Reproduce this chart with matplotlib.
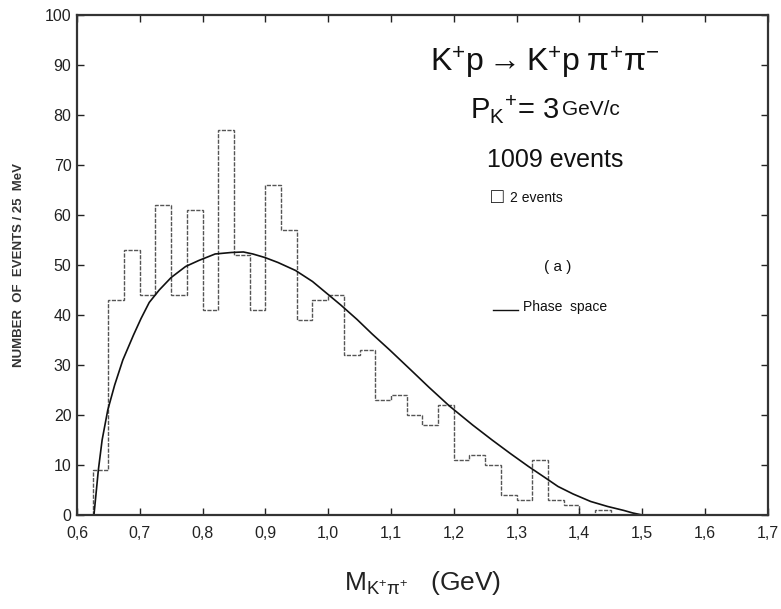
import numpy as np
import matplotlib
matplotlib.use("Agg")
import matplotlib.pyplot as plt

plt.rcParams['font.family'] = ['Liberation Sans', 'DejaVu Sans']
plt.rcParams['mathtext.fontset'] = 'custom'
plt.rcParams['mathtext.rm'] = 'Liberation Sans'
plt.rcParams['mathtext.it'] = 'Liberation Sans'

# K+ pi+ mass histogram, 25 MeV bins starting at 0.625 GeV
bin_start = 0.625
bin_width = 0.025
counts = [9, 43, 53, 44, 62, 44, 61, 41, 77, 52, 41, 66, 57, 39, 43, 44,
          32, 33, 23, 24, 20, 18, 22, 11, 12, 10, 4, 3, 11, 3, 2, 0, 1]

# phase space curve, read point by point
ps_mass = [0.627, 0.634, 0.64, 0.649, 0.66, 0.673, 0.69, 0.702, 0.715,
           0.731, 0.75, 0.773, 0.794, 0.82, 0.846, 0.865, 0.88, 0.899,
           0.92, 0.948, 0.975, 0.998, 1.02, 1.046, 1.07, 1.098, 1.135,
           1.16, 1.193, 1.23, 1.261, 1.29, 1.319, 1.345, 1.366, 1.39,
           1.418, 1.445, 1.471, 1.485, 1.5]
ps_events = [0, 9, 15, 21, 26, 31, 36, 39.3, 42.5, 45, 47.5, 49.7, 50.9,
             52.2, 52.5, 52.6, 52.2, 51.5, 50.5, 48.9, 46.7, 44.3, 42,
             39.1, 36.2, 33, 28.6, 25.6, 21.8, 18.0, 15, 12.3, 9.7, 7.5,
             5.7, 4.2, 2.7, 1.7, 0.9, 0.4, 0]

x_ticks = [0.6, 0.7, 0.8, 0.9, 1.0, 1.1, 1.2, 1.3, 1.4, 1.5, 1.6, 1.7]
y_ticks = [0, 10, 20, 30, 40, 50, 60, 70, 80, 90, 100]

edges = bin_start + bin_width * np.arange(len(counts) + 1)

fig = plt.figure(figsize=(7.81, 6.09), dpi=100)
ax = fig.add_axes([0.0986, 0.1544, 0.8844, 0.821])

ax.stairs(counts, edges, baseline=0, color='#555555', lw=1.0,
          linestyle=(0, (3, 1)))
ax.plot(ps_mass, ps_events, color='#111111', lw=1.2)

ax.set_xlim(0.6, 1.7)
ax.set_ylim(0, 100)
ax.set_xticks(x_ticks)
ax.set_xticklabels([('%.1f' % t).replace('.', ',') for t in x_ticks])
ax.set_yticks(y_ticks)
ax.tick_params(direction='in', top=True, right=True, length=5, width=1,
               labelsize=11.5, colors='#222222')
ax.tick_params(axis='x', pad=8)
ax.tick_params(axis='y', pad=4)
for s in ax.spines.values():
    s.set_linewidth(1.6)
    s.set_color('#333333')

ax.set_ylabel('NUMBER  OF  EVENTS / 25  MeV', fontsize=9.5, fontweight='bold',
              color='#333333', labelpad=14)
ax.set_xlabel(r'$\mathrm{M}_{\mathrm{K^{+}π^{+}}}$   (GeV)', fontsize=19,
              color='#222222', labelpad=20)

ax.text(1.345, 90.4, r'$\mathrm{K^{+}p \rightarrow K^{+}p\;π^{+}π^{-}}$',
        fontsize=23, ha='center', va='center', color='#111111')
ax.text(1.368, 81, r'$\mathrm{P_{K}{}^{+}}$= 3',
        fontsize=21, ha='right', va='center', color='#111111')
ax.text(1.372, 81, 'GeV/c', fontsize=15, ha='left', va='center', color='#111111')
ax.text(1.362, 71, '1009 events', fontsize=18, ha='center', va='center',
        color='#111111')
ax.text(1.269, 63.4, '\u25a1', fontsize=15, ha='center', va='center',
        color='#111111')
ax.text(1.29, 63.4, '2 events', fontsize=10, ha='left', va='center',
        color='#111111')
ax.text(1.365, 49.6, '( a )', fontsize=11, ha='center', va='center',
        color='#111111')
ax.plot([1.263, 1.302], [41, 41], color='#111111', lw=1.0)
ax.text(1.31, 41.5, 'Phase  space', fontsize=10, ha='left', va='center',
        color='#111111')

fig.savefig('out.png', dpi=100)
